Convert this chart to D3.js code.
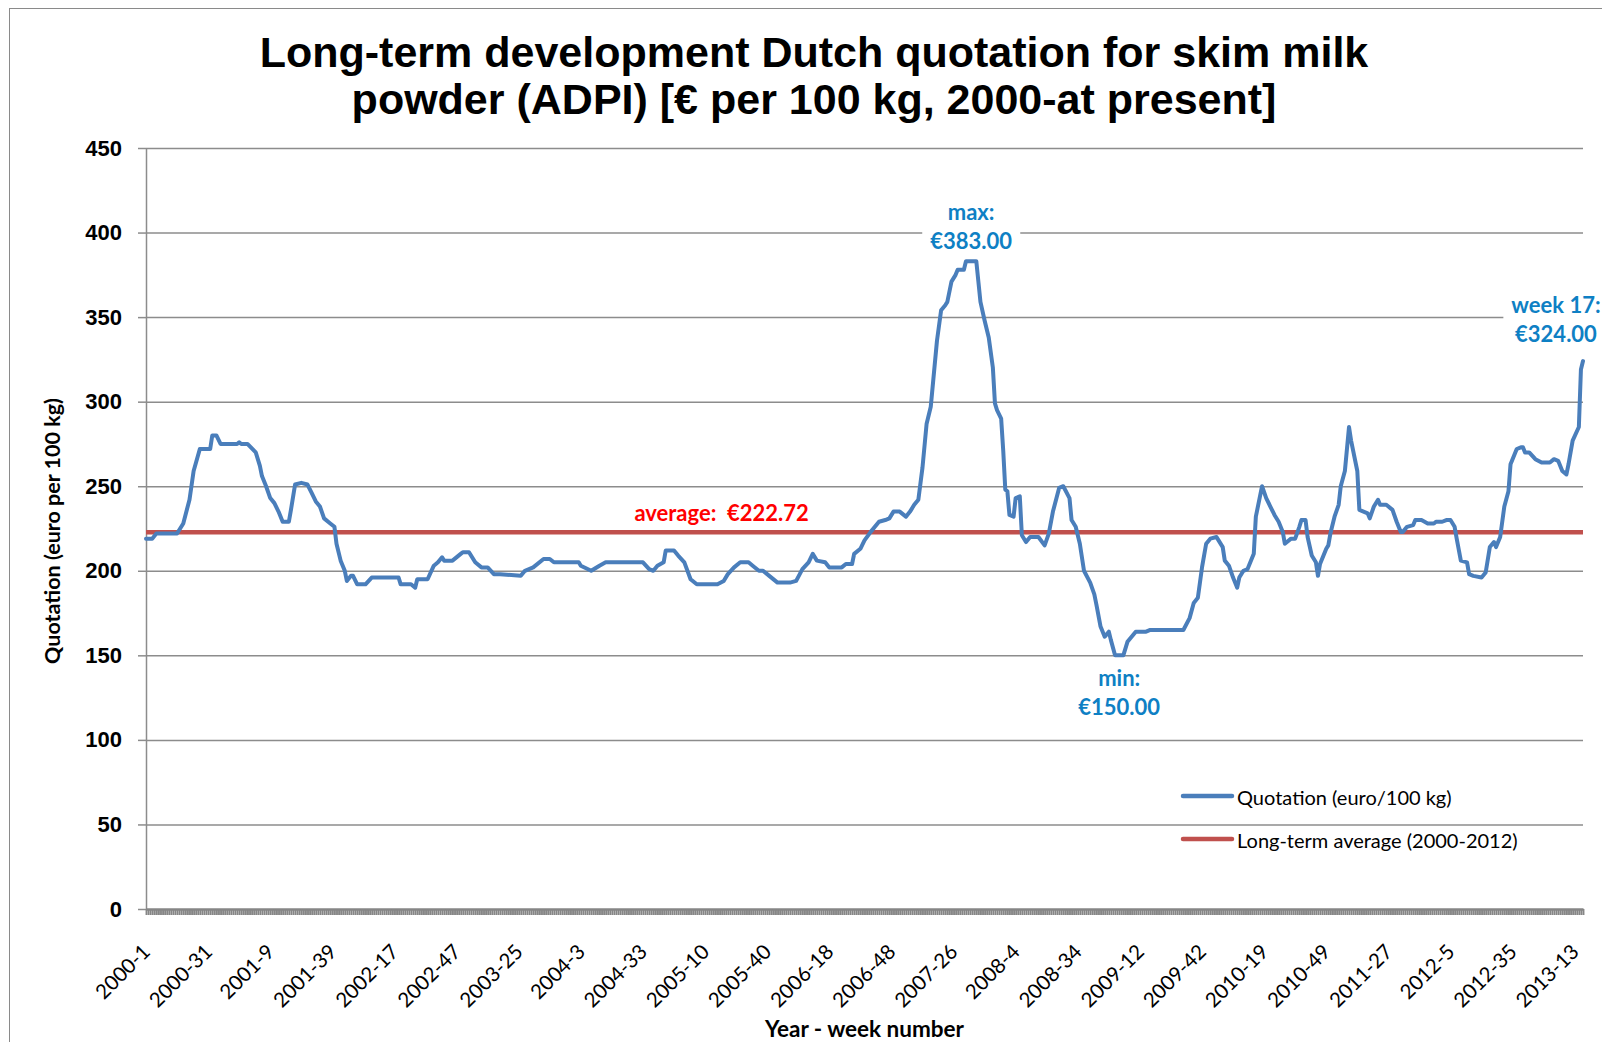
<!DOCTYPE html>
<html>
<head>
  <meta charset="utf-8">
  <title>Dutch quotation skim milk powder</title>
  <script src="https://d3js.org/d3.v7.min.js"></script>
  <style>
    body { margin: 0; background: #fff; }
  </style>
</head>
<body>
<div id="chart"></div>
<script>

// Tick labels on the x-axis (one every 30 weeks, week 0 = 2000-1)
const weekLabels = ["2000-1","2000-31","2001-9","2001-39","2002-17","2002-47","2003-25","2004-3",
  "2004-33","2005-10","2005-40","2006-18","2006-48","2007-26","2008-4","2008-34","2009-12",
  "2009-42","2010-19","2010-49","2011-27","2012-5","2012-35","2013-13"];
const labelStep = 30;
const lastWeek = 694;   // 2013-17

// Weekly quotation: week number since 2000-1 and value (euro / 100 kg)
const weekNo = [
  0,3,5,15,18,21,23,26,31,32,34,36,44,45,46,49,53,55,56,58,60,62,64,66,69,70,72,75,78,80,82,84,86,89,91,92,94,96,97,99,
  100,102,106,109,122,123,128,130,131,136,139,141,143,144,148,152,153,156,159,162,165,168,171,
  181,183,187,192,195,197,209,210,215,219,222,227,240,243,245,247,250,251,255,257,260,263,266,276,279,281,284,287,291,293,296,298,
  301,305,311,314,317,320,322,324,328,330,336,338,341,342,345,
  347,350,352,354,357,359,361,364,367,369,371,373,375,377,379,380,382,384,386,387,389,391,392,395,396,
  401,402,403,405,407,409,410,411,413,414,415,416,417,419,420,422,423,425,427,431,434,436,438,441,443,446,447,449,451,453,456,458,459,
  461,463,465,466,468,472,474,476,478,483,485,501,504,506,508,510,512,514,517,518,520,
  521,523,525,527,528,530,532,535,536,539,541,543,545,547,549,550,553,555,557,558,560,561,563,565,566,567,570,571,572,574,576,577,579,
  581,582,585,586,588,590,591,593,595,596,599,602,604,606,607,609,612,613,616,619,622,623,626,628,630,632,633,635,638,639,
  641,645,647,649,651,652,654,656,658,659,662,664,665,666,668,671,674,678,680,682,684,686,687,689,692,693,694
];
const quotation = [
  219,219,222,222,228,242,259,272,272,280,280,275,275,276,275,275,270,262,256,250,243,240,235,229,229,236,251,252,251,246,241,238,231,228,226,216,206,200,194,197,
  197,192,192,196,196,192,192,190,195,195,203,205,208,206,206,210,211,211,205,202,202,198,198,
  197,200,202,207,207,205,205,203,200,203,205,205,205,201,200,203,205,212,212,209,205,195,192,192,194,198,202,205,205,203,200,200,
  197,193,193,194,201,205,210,206,205,202,202,204,204,210,213,
  218,223,226,229,230,231,235,235,232,235,239,242,261,287,297,310,336,354,357,359,371,375,378,378,383,
  383,371,359,348,338,320,299,295,290,271,248,247,233,232,243,244,221,217,220,220,215,222,235,249,250,243,230,226,216,200,193,186,180,
  167,161,164,159,150,150,158,161,164,164,165,165,172,181,184,202,216,219,220,218,214,
  206,203,196,190,196,200,201,210,232,250,243,238,233,229,223,216,219,219,226,230,230,220,209,205,197,204,213,215,222,232,239,250,259,
  285,277,259,236,235,234,231,238,242,239,239,236,229,223,223,226,227,230,230,228,228,229,229,230,230,226,219,206,205,198,
  197,196,199,214,217,214,220,238,247,263,272,273,273,270,270,266,264,264,266,265,259,257,263,277,285,319,324
];

// Long-term average (2000-2012)
const longTermAvg = 222.72;

// Value axis ticks
const yTicks = [0, 50, 100, 150, 200, 250, 300, 350, 400, 450];

// Legend entries
const seriesNames = ["Quotation (euro/100 kg)", "Long-term average (2000-2012)"];
const seriesColors = ["#4a7ebb", "#c0504d"];

const W = 1602, H = 1042;
const plot = {left: 146, right: 1583, top: 148, bottom: 909};

const data = weekNo.map((w, i) => ({week: w, value: quotation[i]}));

const svg = d3.select("#chart").append("svg")
  .attr("width", W)
  .attr("height", H)
  .style("display", "block");

// Outer chart frame (cut off on the right and bottom like the original)
svg.append("rect")
  .attr("x", 9.5).attr("y", 8.5)
  .attr("width", W + 20).attr("height", H + 20)
  .attr("fill", "none")
  .attr("stroke", "#8a8a8a")
  .attr("stroke-width", 1);

// Title
svg.append("text")
  .attr("x", 814)
  .attr("text-anchor", "middle")
  .attr("font-family", "Liberation Sans, Arial, sans-serif")
  .attr("font-weight", "bold")
  .attr("font-size", 43)
  .attr("fill", "#000")
  .selectAll("tspan")
  .data(["Long-term development Dutch quotation for skim milk", "powder (ADPI) [€ per 100 kg, 2000-at present]"])
  .join("tspan")
    .attr("x", 814)
    .attr("y", (d, i) => 67 + i * 47)
    .text(d => d);

// Scales
const x = d3.scaleLinear().domain([0, lastWeek]).range([plot.left, plot.right]);
const y = d3.scaleLinear().domain([0, 450]).range([plot.bottom, plot.top]);

// Gridlines
svg.append("g")
  .attr("transform", `translate(${plot.left},0)`)
  .call(d3.axisLeft(y).tickValues(yTicks.slice(1)).tickSize(-(plot.right - plot.left)).tickFormat(""))
  .call(g => g.select(".domain").remove())
  .call(g => g.selectAll("line").attr("stroke", "#8c8c8c").attr("stroke-width", 1.5));

// Y-axis
svg.append("g")
  .attr("transform", `translate(${plot.left},0)`)
  .call(d3.axisLeft(y).tickValues(yTicks).tickSize(8).tickPadding(16).tickSizeOuter(0))
  .call(g => g.select(".domain").attr("stroke", "#8c8c8c").attr("stroke-width", 1.5))
  .call(g => g.selectAll("line").attr("stroke", "#8c8c8c").attr("stroke-width", 1.5))
  .call(g => g.selectAll("text")
    .attr("font-family", "Liberation Sans, Arial, sans-serif")
    .attr("font-weight", "bold")
    .attr("font-size", 22)
    .attr("fill", "#000"));

// X-axis: a tick mark for every week
svg.append("g")
  .attr("transform", `translate(0,${plot.bottom})`)
  .call(d3.axisBottom(x).tickValues(d3.range(0, lastWeek + 1)).tickSize(6).tickFormat("").tickSizeOuter(0))
  .call(g => g.select(".domain").attr("stroke", "#868686").attr("stroke-width", 2.5))
  .call(g => g.selectAll("line").attr("stroke", "#868686").attr("stroke-width", 1.9));

// X-axis labels every 30 weeks, rotated
svg.append("g")
  .attr("transform", `translate(0,${plot.bottom})`)
  .call(d3.axisBottom(x).tickValues(weekLabels.map((d, i) => i * labelStep))
    .tickFormat((d, i) => weekLabels[i]).tickSize(0))
  .call(g => g.select(".domain").remove())
  .call(g => g.selectAll("text")
    .attr("font-family", "Lato, Open Sans, sans-serif")
    .attr("font-size", 20.5)
    .attr("fill", "#000")
    .attr("text-anchor", "end")
    .attr("x", 0).attr("y", 0).attr("dy", null)
    .attr("transform", "translate(5,44) rotate(-45)"));

// Axis titles
svg.append("text")
  .attr("transform", `translate(60,531) rotate(-90)`)
  .attr("text-anchor", "middle")
  .attr("font-family", "Lato, Open Sans, sans-serif")
  .attr("font-weight", "bold")
  .attr("font-size", 21.5)
  .text("Quotation (euro per 100 kg)");

svg.append("text")
  .attr("x", (plot.left + plot.right) / 2)
  .attr("y", 1037)
  .attr("text-anchor", "middle")
  .attr("font-family", "Lato, Open Sans, sans-serif")
  .attr("font-weight", "bold")
  .attr("font-size", 22.5)
  .text("Year - week number");

// Long-term average line
svg.append("line")
  .attr("x1", x(0)).attr("x2", x(lastWeek))
  .attr("y1", y(longTermAvg)).attr("y2", y(longTermAvg))
  .attr("stroke", seriesColors[1])
  .attr("stroke-width", 4.5);

// Quotation line
svg.append("path")
  .datum(data)
  .attr("fill", "none")
  .attr("stroke", seriesColors[0])
  .attr("stroke-width", 4)
  .attr("stroke-linejoin", "round")
  .attr("stroke-linecap", "round")
  .attr("d", d3.line().x(d => x(d.week)).y(d => y(d.value)));

// Data labels with a white box behind them
function dataLabel(cx, lines, baseY, color) {
  const g = svg.append("g");
  const bg = g.append("rect").attr("fill", "#fff");
  const t = g.append("text")
    .attr("text-anchor", "middle")
    .attr("font-family", "Lato, Open Sans, sans-serif")
    .attr("font-weight", "bold")
    .attr("font-size", 22)
    .attr("fill", color);
  t.selectAll("tspan").data(lines).join("tspan")
    .attr("x", cx)
    .attr("y", (d, i) => baseY + i * 28.5)
    .text(d => d);
  const b = t.node().getBBox();
  bg.attr("x", b.x - 8).attr("y", b.y - 2).attr("width", b.width + 16).attr("height", b.height + 4);
}

const maxVal = d3.max(quotation), minVal = d3.min(quotation);
const maxWeeks = data.filter(d => d.value === maxVal).map(d => d.week);
const minWeeks = data.filter(d => d.value === minVal).map(d => d.week);
const lastVal = quotation[quotation.length - 1];

dataLabel(x(d3.mean(maxWeeks)), ["max:", `€${maxVal.toFixed(2)}`], y(maxVal) - 41, "#0e80c4");
dataLabel(x(d3.mean(minWeeks)), ["min:", `€${minVal.toFixed(2)}`], y(minVal) + 31, "#0e80c4");
dataLabel(x(lastWeek) - 27, ["week 17:", `€${lastVal.toFixed(2)}`], y(lastVal) - 48, "#0e80c4");

svg.append("text")
  .attr("x", x(278))
  .attr("y", y(longTermAvg) - 11)
  .attr("text-anchor", "middle")
  .attr("font-family", "Lato, Open Sans, sans-serif")
  .attr("font-weight", "bold")
  .attr("font-size", 22)
  .attr("fill", "#ff0000")
  .attr("xml:space", "preserve")
  .text(`average:  €${longTermAvg.toFixed(2)}`);

// Legend
const legend = svg.append("g")
  .selectAll("g")
  .data(seriesNames)
  .join("g")
    .attr("transform", (d, i) => `translate(1183,${796 + i * 43})`);

legend.append("line")
  .attr("x1", 0).attr("x2", 49)
  .attr("stroke", (d, i) => seriesColors[i])
  .attr("stroke-width", 4.5)
  .attr("stroke-linecap", "round");

legend.append("text")
  .attr("x", 54)
  .attr("y", 9)
  .attr("font-family", "Lato, Open Sans, sans-serif")
  .attr("font-size", 20)
  .attr("fill", "#000")
  .text(d => d);

</script>
</body>
</html>
